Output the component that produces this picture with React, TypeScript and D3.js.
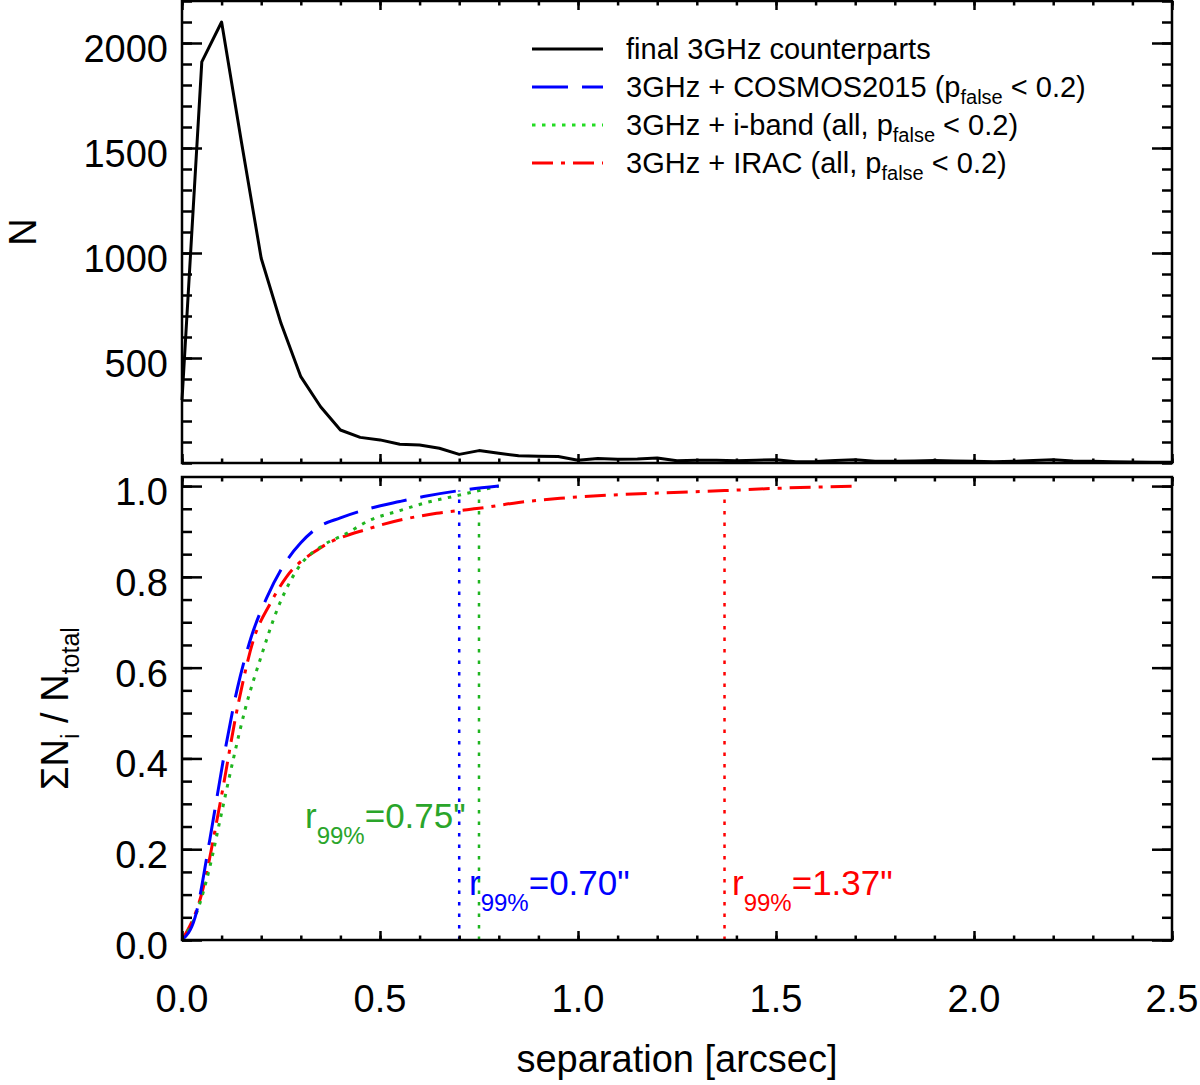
import { useEffect, useRef } from 'react';
import * as d3 from 'd3';

// top panel: histogram of separations for the final counterparts
const sepBins = [
    0.00, 0.05, 0.10, 0.15, 0.20, 0.25, 0.30, 0.35, 0.40, 0.45,
    0.50, 0.55, 0.60, 0.65, 0.70, 0.75, 0.80, 0.85, 0.90, 0.95,
    1.00, 1.05, 1.10, 1.15, 1.20, 1.25, 1.30, 1.35, 1.40, 1.45,
    1.50, 1.55, 1.60, 1.65, 1.70, 1.75, 1.80, 1.85, 1.90, 1.95,
    2.00, 2.05, 2.10, 2.15, 2.20, 2.25, 2.30, 2.35, 2.40, 2.45, 2.50
];
const nFinal = [
    300, 1910, 2100, 1530, 975, 665, 411, 268, 157, 122,
    110, 89, 86, 70, 41, 59, 46, 35, 32, 31,
    13, 21, 18, 19, 24, 11, 13, 13, 11, 13,
    16, 6, 7, 12, 16, 8, 8, 10, 12, 10,
    8, 6, 8, 12, 16, 10, 8, 6, 5, 4, 4
];

// bottom panel: cumulative fractions
const cosmosSep = [0, 0.033, 0.07, 0.105, 0.14, 0.175, 0.215, 0.26, 0.30, 0.34, 0.40, 0.475, 0.55, 0.61, 0.70, 0.80];
const cosmosFrac = [0, 0.05, 0.22, 0.40, 0.555, 0.668, 0.756, 0.83, 0.875, 0.907, 0.93, 0.951, 0.966, 0.977, 0.99, 1.0];

const ibandSep = [0, 0.037, 0.07, 0.096, 0.13, 0.16, 0.20, 0.24, 0.29, 0.365, 0.41, 0.475, 0.55, 0.61, 0.70, 0.75, 0.80];
const ibandFrac = [0, 0.06, 0.16, 0.264, 0.40, 0.51, 0.625, 0.727, 0.815, 0.874, 0.893, 0.925, 0.946, 0.962, 0.98, 0.99, 1.0];

const iracSep = [0, 0.05, 0.096, 0.142, 0.18, 0.222, 0.264, 0.348, 0.475, 0.643, 0.70, 0.75, 0.85, 0.955, 1.08, 1.21, 1.37, 1.50, 1.70];
const iracFrac = [0, 0.103, 0.30, 0.52, 0.66, 0.74, 0.80, 0.863, 0.907, 0.94, 0.946, 0.951, 0.964, 0.973, 0.980, 0.985, 0.990, 0.995, 1.0];

const r99Sep = [0.70, 0.75, 1.37];
const r99Level = 0.99;
const r99Labels = ['0.70"', '0.75"', '1.37"'];

const xTickValues = [0, 0.5, 1.0, 1.5, 2.0, 2.5];
const xTickLabels = ['0.0', '0.5', '1.0', '1.5', '2.0', '2.5'];
const topTickValues = [500, 1000, 1500, 2000];
const botTickValues = [0, 0.2, 0.4, 0.6, 0.8, 1.0];
const botTickLabels = ['0.0', '0.2', '0.4', '0.6', '0.8', '1.0'];

const legendLabels = [
    'final 3GHz counterparts',
    '3GHz + COSMOS2015 (',
    '3GHz + i-band (all, ',
    '3GHz + IRAC (all, '
];

const FONT = '"Liberation Sans", Arial, Helvetica, sans-serif';
const BLUE = '#0000ff';
const GREEN = '#1fb51f';
const RED = '#ff0000';
const DASH = '36 14';
const DOT = '3.5 6.5';
const DASHDOT = '21 8 4 8';

export default function App() {
    const svgRef = useRef<SVGSVGElement>(null);

    useEffect(() => {
        if (!svgRef.current) return;
        const svg = d3.select(svgRef.current);
        svg.selectAll('*').remove();

        const left = 182, right = 1172;
        const x = d3.scaleLinear().domain([0, 2.5]).range([left, right]);
        const yTop = d3.scaleLinear().domain([0, 2200]).range([463, 1]);
        const yBot = d3.scaleLinear().domain([0, 1.02]).range([940, 477]);

        svg.append('rect').attr('width', 1200).attr('height', 1085).attr('fill', '#fff');

        // curves
        const topLine = d3.line<number>()
            .x((_, i) => x(sepBins[i]))
            .y(d => yTop(d));
        svg.append('path')
            .attr('d', topLine(nFinal))
            .attr('fill', 'none')
            .attr('stroke', '#000')
            .attr('stroke-width', 3)
            .attr('stroke-linejoin', 'round');

        const cumSeries = [
            { sep: iracSep, frac: iracFrac, color: RED, dash: DASHDOT },
            { sep: ibandSep, frac: ibandFrac, color: GREEN, dash: DOT },
            { sep: cosmosSep, frac: cosmosFrac, color: BLUE, dash: DASH }
        ];
        cumSeries.forEach(s => {
            const line = d3.line<number>()
                .x((_, i) => x(s.sep[i]))
                .y(d => yBot(d))
                .curve(d3.curveMonotoneX);
            svg.append('path')
                .attr('d', line(s.frac))
                .attr('fill', 'none')
                .attr('stroke', s.color)
                .attr('stroke-width', 3)
                .attr('stroke-dasharray', s.dash);
        });

        // r99% markers
        const r99Colors = [BLUE, GREEN, RED];
        r99Sep.forEach((v, i) => {
            svg.append('line')
                .attr('x1', x(v)).attr('x2', x(v))
                .attr('y1', yBot(0)).attr('y2', yBot(r99Level))
                .attr('stroke', r99Colors[i])
                .attr('stroke-width', 2.5)
                .attr('stroke-dasharray', '3.5 8');
        });
        const r99Pos = [
            { x: 469, y: 895 },
            { x: 305, y: 828 },
            { x: 732, y: 895 }
        ];
        r99Labels.forEach((lab, i) => {
            const t = svg.append('text')
                .attr('x', r99Pos[i].x).attr('y', r99Pos[i].y)
                .attr('fill', i === 1 ? '#2aa52a' : r99Colors[i])
                .style('font-family', FONT)
                .style('font-size', '35px');
            t.append('tspan').text('r');
            t.append('tspan').attr('dy', 16).style('font-size', '24px').text('99%');
            t.append('tspan').attr('dy', -16).text('=' + lab);
        });

        // frames
        [[yTop(2200), yTop(0)], [yBot(1.02), yBot(0)]].forEach(([t, b]) => {
            svg.append('rect')
                .attr('x', left).attr('y', t)
                .attr('width', right - left).attr('height', b - t)
                .attr('fill', 'none')
                .attr('stroke', '#000')
                .attr('stroke-width', 2.5);
        });

        // ticks, all pointing inwards
        const drawTicks = (axis: d3.Axis<d3.NumberValue>, tx: number, ty: number, values: number[], size: number) => {
            const g = svg.append('g').attr('transform', `translate(${tx},${ty})`);
            g.call(axis.tickValues(values).tickSizeInner(-size).tickSizeOuter(0).tickFormat(() => ''));
            g.select('.domain').remove();
            g.selectAll('line').attr('stroke', '#000').attr('stroke-width', 2.5);
        };
        const xMinor = x.ticks(25);
        const topMinor = yTop.ticks(22);
        const botMinor = yBot.ticks(20);
        [[yTop(2200), yTop(0)], [yBot(1.02), yBot(0)]].forEach(([t, b]) => {
            drawTicks(d3.axisBottom(x), 0, b, xMinor, 4.5);
            drawTicks(d3.axisBottom(x), 0, b, xTickValues, 9);
            drawTicks(d3.axisTop(x), 0, t, xMinor, 4.5);
            drawTicks(d3.axisTop(x), 0, t, xTickValues, 9);
        });
        drawTicks(d3.axisLeft(yTop), left, 0, topMinor, 10);
        drawTicks(d3.axisLeft(yTop), left, 0, topTickValues, 20);
        drawTicks(d3.axisRight(yTop), right, 0, topMinor, 10);
        drawTicks(d3.axisRight(yTop), right, 0, topTickValues, 20);
        drawTicks(d3.axisLeft(yBot), left, 0, botMinor, 10);
        drawTicks(d3.axisLeft(yBot), left, 0, botTickValues, 20);
        drawTicks(d3.axisRight(yBot), right, 0, botMinor, 10);
        drawTicks(d3.axisRight(yBot), right, 0, botTickValues, 20);

        // tick labels
        const labelStyle = (sel: d3.Selection<SVGTextElement, any, any, any>) =>
            sel.style('font-family', FONT).style('font-size', '38px').attr('fill', '#000');
        xTickValues.forEach((v, i) => {
            svg.append('text')
                .attr('x', x(v)).attr('y', 1012)
                .attr('text-anchor', 'middle')
                .text(xTickLabels[i])
                .call(labelStyle);
        });
        topTickValues.forEach(v => {
            svg.append('text')
                .attr('x', 168).attr('y', yTop(v) + 19)
                .attr('text-anchor', 'end')
                .text(String(v))
                .call(labelStyle);
        });
        botTickValues.forEach((v, i) => {
            svg.append('text')
                .attr('x', 168).attr('y', yBot(v) + 19)
                .attr('text-anchor', 'end')
                .text(botTickLabels[i])
                .call(labelStyle);
        });

        // axis titles
        svg.append('text')
            .attr('x', (left + right) / 2).attr('y', 1072)
            .attr('text-anchor', 'middle')
            .text('separation [arcsec]')
            .call(labelStyle);
        svg.append('text')
            .attr('transform', `translate(36,${(yTop(2200) + yTop(0)) / 2}) rotate(-90)`)
            .attr('text-anchor', 'middle')
            .text('N')
            .call(labelStyle);
        const yl = svg.append('text')
            .attr('transform', `translate(68,${(yBot(1.02) + yBot(0)) / 2}) rotate(-90)`)
            .attr('text-anchor', 'middle')
            .call(labelStyle);
        yl.append('tspan').text('\u03A3N');
        yl.append('tspan').attr('dy', 11).style('font-size', '25px').text('i');
        yl.append('tspan').attr('dy', -11).text(' / N');
        yl.append('tspan').attr('dy', 11).style('font-size', '25px').text('total');

        // legend
        const legendStyles = [
            { color: '#000', dash: null },
            { color: BLUE, dash: DASH },
            { color: '#22dd22', dash: DOT },
            { color: RED, dash: DASHDOT }
        ];
        const legendY = [49, 87, 125, 163];
        legendLabels.forEach((lab, i) => {
            const ly = legendY[i];
            const l = svg.append('line')
                .attr('x1', 532).attr('x2', 603)
                .attr('y1', ly).attr('y2', ly)
                .attr('stroke', legendStyles[i].color)
                .attr('stroke-width', 3);
            if (legendStyles[i].dash) l.attr('stroke-dasharray', legendStyles[i].dash);
            const t = svg.append('text')
                .attr('x', 626).attr('y', ly + 10)
                .style('font-family', FONT)
                .style('font-size', '29px')
                .attr('fill', '#000');
            t.append('tspan').text(lab);
            if (i > 0) {
                t.append('tspan').text('p');
                t.append('tspan').attr('dy', 7).style('font-size', '20px').text('false');
                t.append('tspan').attr('dy', -7).text(' < 0.2)');
            }
        });
    }, []);

    return (
        <svg
            ref={svgRef}
            width={1200}
            height={1085}
            style={{ position: 'absolute', left: 0, top: 0 }}
        />
    );
}
